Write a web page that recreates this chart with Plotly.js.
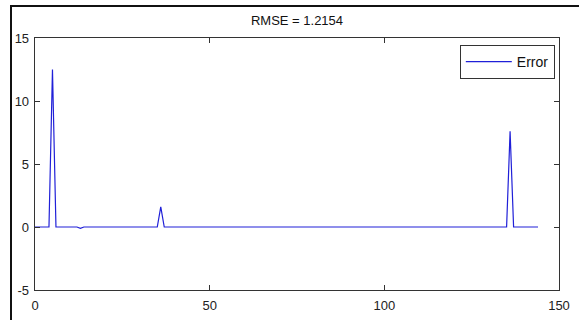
<!DOCTYPE html>
<html>
<head>
<meta charset="utf-8">
<script src="https://cdn.plot.ly/plotly-3.0.1.min.js"></script>
<style>
  html, body { margin: 0; padding: 0; background: #fff; }
  #wrap { position: relative; width: 579px; height: 320px; overflow: hidden; }
  #chart { position: absolute; left: 0; top: 0; width: 579px; height: 320px; }
  #frame { position: absolute; left: 10px; top: 5px; width: 600px; height: 400px;
           border-left: 2px solid #111; border-top: 2px solid #111; pointer-events: none; }
</style>
</head>
<body>
<div id="wrap">
  <div id="chart"></div>
  <div id="frame"></div>
</div>
<script>
// Error signal sampled at integer steps (index 0..144)
const errorValues = [
  0, 0, 0, 0, 0, 12.5, 0, 0, 0, 0,
  0, 0, 0, -0.1, 0, 0, 0, 0, 0, 0,
  0, 0, 0, 0, 0, 0, 0, 0, 0, 0,
  0, 0, 0, 0, 0, 0, 1.6, 0, 0, 0,
  0, 0, 0, 0, 0, 0, 0, 0, 0, 0,
  0, 0, 0, 0, 0, 0, 0, 0, 0, 0,
  0, 0, 0, 0, 0, 0, 0, 0, 0, 0,
  0, 0, 0, 0, 0, 0, 0, 0, 0, 0,
  0, 0, 0, 0, 0, 0, 0, 0, 0, 0,
  0, 0, 0, 0, 0, 0, 0, 0, 0, 0,
  0, 0, 0, 0, 0, 0, 0, 0, 0, 0,
  0, 0, 0, 0, 0, 0, 0, 0, 0, 0,
  0, 0, 0, 0, 0, 0, 0, 0, 0, 0,
  0, 0, 0, 0, 0, 0, 7.6, 0, 0, 0,
  0, 0, 0, 0, 0
];
const seriesName = "Error";
const titleText = "RMSE = 1.2154";
const xTicks = [0, 50, 100, 150];
const yTicks = [-5, 0, 5, 10, 15];

const font = "Liberation Sans, Arial, sans-serif";
const axisCommon = {
  showgrid: false, zeroline: false,
  showline: true, linecolor: "#333", linewidth: 1.3,
  mirror: "ticks", ticks: "inside", ticklen: 5, tickcolor: "#333",
  tickfont: { family: font, size: 13, color: "#222" },
  fixedrange: true
};

const data = [{
  y: errorValues,
  type: "scatter", mode: "lines", name: seriesName,
  line: { color: "#2020d8", width: 1.2 }
}];

const layout = {
  width: 579, height: 320,
  margin: { l: 35, r: 20, t: 38, b: 30 },
  paper_bgcolor: "#fff", plot_bgcolor: "#fff",
  title: { text: titleText, font: { family: font, size: 13, color: "#111" },
           x: 0.5, xref: "paper", y: 0.935, yanchor: "middle" },
  xaxis: Object.assign({}, axisCommon, { range: [0, 150], tickvals: xTicks, ticktext: xTicks.map(String),
                                         ticklabelstandoff: 3 }),
  yaxis: Object.assign({}, axisCommon, { range: [-5, 15], tickvals: yTicks, ticktext: yTicks.map(String),
                                         ticklabelstandoff: 2 }),
  showlegend: true,
  legend: { x: 0.992, xanchor: "right", y: 0.972, yanchor: "top",
            bgcolor: "#fff", bordercolor: "#333", borderwidth: 1,
            itemwidth: 46, tracegroupgap: 0,
            font: { family: font, size: 14, color: "#111" } }
};

Plotly.newPlot("chart", data, layout, { staticPlot: true, displayModeBar: false });
</script>
</body>
</html>
